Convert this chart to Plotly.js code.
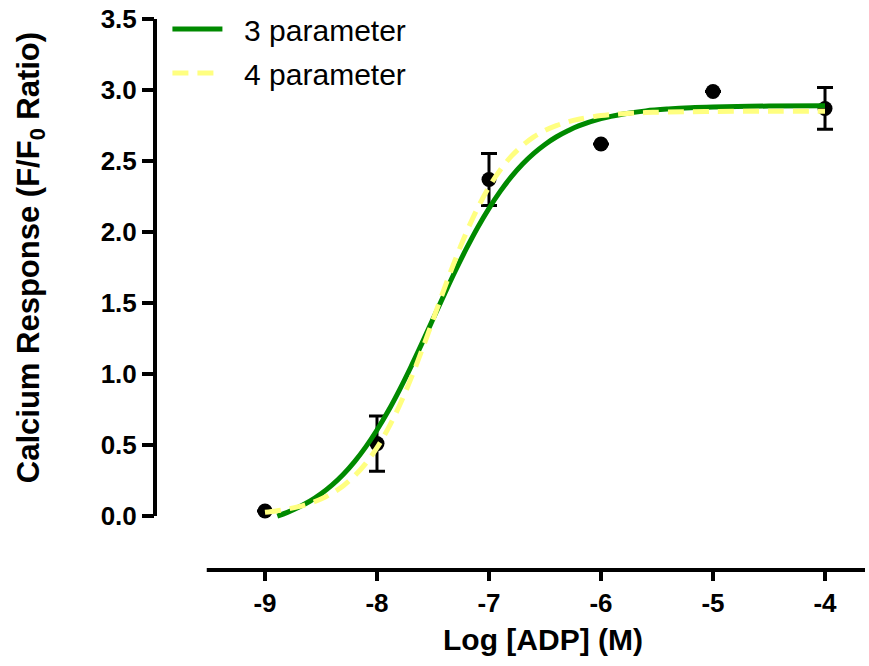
<!DOCTYPE html>
<html>
<head>
<meta charset="utf-8">
<script src="https://cdn.plot.ly/plotly-3.0.1.min.js"></script>
<style>html,body{margin:0;padding:0;background:#fff;}#chart{width:869px;height:666px;}</style>
</head>
<body>
<div id="chart"></div>
<script>
// Observed data
const logADP = [-9, -8, -7, -6, -5, -4];
const response = [0.035, 0.51, 2.37, 2.62, 2.99, 2.87];
const responseErr = [null, 0.195, 0.183, null, null, 0.147];

// 3 parameter fit curve
const fit3X = [-8.89, -8.8, -8.7, -8.6, -8.5, -8.4, -8.3, -8.2, -8.1, -8.0, -7.9, -7.8, -7.7, -7.6, -7.5, -7.4, -7.3, -7.2, -7.1, -7.0, -6.9, -6.8, -6.7, -6.6, -6.5, -6.4, -6.3, -6.2, -6.0, -5.8, -5.6, -5.4, -5.2, -5.0, -4.5, -4.0];
const fit3Y = [0.00, 0.026, 0.062, 0.104, 0.156, 0.219, 0.294, 0.383, 0.487, 0.606, 0.739, 0.887, 1.046, 1.214, 1.387, 1.559, 1.727, 1.886, 2.034, 2.167, 2.286, 2.390, 2.479, 2.554, 2.617, 2.669, 2.711, 2.747, 2.798, 2.831, 2.853, 2.866, 2.875, 2.880, 2.887, 2.889];

// 4 parameter fit curve
const fit4X = [-9.0, -8.9, -8.8, -8.7, -8.6, -8.5, -8.4, -8.3, -8.2, -8.1, -8.0, -7.9, -7.8, -7.7, -7.6, -7.5, -7.4, -7.3, -7.2, -7.1, -7.0, -6.9, -6.8, -6.7, -6.6, -6.5, -6.4, -6.3, -6.2, -6.0, -5.8, -5.6, -5.4, -5.0, -4.5, -4.0];
const fit4Y = [0.027, 0.036, 0.049, 0.066, 0.089, 0.120, 0.161, 0.214, 0.283, 0.371, 0.481, 0.617, 0.777, 0.962, 1.166, 1.381, 1.599, 1.808, 2.001, 2.171, 2.317, 2.437, 2.534, 2.610, 2.670, 2.715, 2.749, 2.775, 2.794, 2.820, 2.833, 2.841, 2.845, 2.849, 2.850, 2.850];

const seriesNames = ['\u00A0\u00A03 parameter', '\u00A0\u00A04 parameter'];
const xTickVals = [-9, -8, -7, -6, -5, -4];
const xTickText = ['-9', '-8', '-7', '-6', '-5', '-4'];
const yTickVals = [0, 0.5, 1, 1.5, 2, 2.5, 3, 3.5];
const yTickText = ['0.0', '0.5', '1.0', '1.5', '2.0', '2.5', '3.0', '3.5'];
const xTitle = 'Log [ADP] (M)';
const yTitle = 'Calcium Response (F/F<sub>0</sub> Ratio)';

const FONT = 'Arial, "Liberation Sans", Helvetica, sans-serif';

const traces = [
  {
    x: logADP, y: response, type: 'scatter', mode: 'markers',
    marker: {color: '#000', size: 15},
    error_y: {type: 'data', array: responseErr, visible: true, color: '#000', thickness: 3, width: 8},
    showlegend: false, hoverinfo: 'skip'
  },
  {
    x: fit3X, y: fit3Y, type: 'scatter', mode: 'lines', name: seriesNames[0],
    line: {color: '#008a00', width: 5, shape: 'spline'}, legendgroup: 'a'
  },
  {
    x: fit4X, y: fit4Y, type: 'scatter', mode: 'lines', name: seriesNames[1],
    line: {color: '#ffff80', width: 5, dash: '16px,9px', shape: 'spline'}, legendgroup: 'b'
  }
];

const layout = {
  width: 869, height: 666,
  paper_bgcolor: '#fff', plot_bgcolor: '#fff',
  margin: {l: 155, r: 4, t: 19, b: 96, autoexpand: false},
  showlegend: true,
  legend: {
    x: 0.0175, y: 1.029, xanchor: 'left', yanchor: 'top',
    font: {family: FONT, size: 30, color: '#000'},
    itemwidth: 50, tracegroupgap: 2, bgcolor: 'rgba(0,0,0,0)'
  },
  xaxis: {
    range: [-9.982, -3.643],
    tickvals: xTickVals, ticktext: xTickText,
    ticks: 'outside', ticklen: 10, tickwidth: 4, tickcolor: '#000',
    showline: false, showgrid: false, zeroline: false,
    tickfont: {family: FONT, size: 26, color: '#000', weight: 'bold'}
  },
  yaxis: {
    range: [-0.38, 3.5],
    tickvals: yTickVals, ticktext: yTickText,
    ticks: 'outside', ticklen: 12, tickwidth: 4, tickcolor: '#000',
    showline: false, showgrid: false, zeroline: false,
    tickfont: {family: FONT, size: 26, color: '#000', weight: 'bold'}
  },
  annotations: [
    {text: xTitle, xref: 'paper', yref: 'paper', x: 0.546, y: -0.127, xanchor: 'center', yanchor: 'middle',
     showarrow: false, font: {family: FONT, size: 30, color: '#000', weight: 'bold'}},
    {text: yTitle, xref: 'paper', yref: 'paper', x: -0.1746, y: 0.566, xanchor: 'center', yanchor: 'middle',
     textangle: -90, showarrow: false, font: {family: FONT, size: 31, color: '#000', weight: 'bold'}}
  ],
  shapes: [
    {type: 'line', xref: 'paper', yref: 'y', x0: 0, x1: 0, y0: 0, y1: 3.5, line: {color: '#000', width: 4}},
    {type: 'line', xref: 'x', yref: 'paper', x0: -9.52, x1: -3.6, y0: 0, y1: 0, line: {color: '#000', width: 4}}
  ]
};

Plotly.newPlot('chart', traces, layout, {staticPlot: true, displayModeBar: false});
</script>
</body>
</html>
